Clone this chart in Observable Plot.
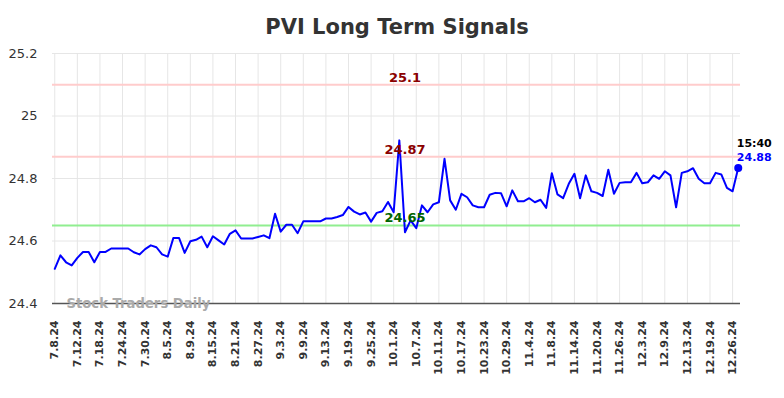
<!DOCTYPE html>
<html>
<head>
<meta charset="utf-8">
<script src="https://cdn.jsdelivr.net/npm/d3@7"></script>
<script src="https://cdn.jsdelivr.net/npm/@observablehq/plot@0.6"></script>
<style>
  html, body { margin: 0; padding: 0; background: #fff; }
  #title { width: 784px; height: 40px; overflow: visible; text-align: center; box-sizing: border-box; padding-left: 10px;
    font-family: "DejaVu Sans", sans-serif; font-weight: bold; font-size: 21px; line-height: 54px; color: #333; }
  #chart svg { display: block; }
</style>
</head>
<body>
<div id="title">PVI Long Term Signals</div>
<div id="chart"></div>
<script>
const dates = [
  "7.8.24","7.9.24","7.10.24","7.11.24","7.12.24","7.15.24","7.16.24","7.17.24","7.18.24","7.19.24",
  "7.22.24","7.23.24","7.24.24","7.25.24","7.26.24","7.29.24","7.30.24","7.31.24",
  "8.1.24","8.2.24","8.5.24","8.6.24","8.7.24","8.8.24","8.9.24","8.12.24","8.13.24","8.14.24","8.15.24","8.16.24",
  "8.19.24","8.20.24","8.21.24","8.22.24","8.23.24","8.26.24","8.27.24","8.28.24","8.29.24","8.30.24",
  "9.3.24","9.4.24","9.5.24","9.6.24","9.9.24","9.10.24","9.11.24","9.12.24","9.13.24","9.16.24",
  "9.17.24","9.18.24","9.19.24","9.20.24","9.23.24","9.24.24","9.25.24","9.26.24","9.27.24","9.30.24",
  "10.1.24","10.2.24","10.3.24","10.4.24","10.7.24","10.8.24","10.9.24","10.10.24","10.11.24","10.14.24",
  "10.15.24","10.16.24","10.17.24","10.18.24","10.21.24","10.22.24","10.23.24","10.24.24","10.25.24","10.28.24",
  "10.29.24","10.30.24","10.31.24",
  "11.1.24","11.4.24","11.5.24","11.6.24","11.7.24","11.8.24","11.11.24","11.12.24","11.13.24","11.14.24",
  "11.15.24","11.18.24","11.19.24","11.20.24","11.21.24","11.22.24","11.25.24","11.26.24","11.27.24","11.29.24",
  "12.2.24","12.3.24","12.4.24","12.5.24","12.6.24","12.9.24","12.10.24","12.11.24","12.12.24","12.13.24",
  "12.16.24","12.17.24","12.18.24","12.19.24","12.20.24","12.23.24","12.24.24","12.26.24","12.27.24"
];

const values = [
  24.511,24.554,24.532,24.522,24.546,24.565,24.565,24.532,24.565,24.565,
  24.576,24.576,24.576,24.576,24.564,24.557,24.574,24.586,
  24.580,24.557,24.550,24.610,24.610,24.562,24.599,24.604,24.614,24.580,24.615,24.602,
  24.589,24.623,24.634,24.608,24.608,24.608,24.613,24.618,24.609,24.687,
  24.630,24.652,24.652,24.625,24.663,24.663,24.663,24.663,24.672,24.672,
  24.677,24.683,24.709,24.694,24.685,24.691,24.662,24.690,24.695,24.725,
  24.692,24.922,24.628,24.666,24.641,24.714,24.692,24.717,24.724,24.863,
  24.730,24.700,24.751,24.740,24.714,24.708,24.708,24.748,24.754,24.753,
  24.711,24.762,24.727,
  24.727,24.737,24.724,24.732,24.706,24.817,24.749,24.737,24.783,24.815,
  24.737,24.810,24.759,24.754,24.744,24.828,24.751,24.786,24.788,24.788,
  24.818,24.785,24.788,24.810,24.799,24.823,24.810,24.708,24.818,24.823,
  24.833,24.799,24.785,24.785,24.818,24.813,24.770,24.759,24.834
];

const tickLabels = [
  "7.8.24","7.12.24","7.18.24","7.24.24","7.30.24","8.5.24","8.9.24","8.15.24","8.21.24","8.27.24",
  "9.3.24","9.9.24","9.13.24","9.19.24","9.25.24","10.1.24","10.7.24","10.11.24","10.17.24","10.23.24",
  "10.29.24","11.4.24","11.8.24","11.14.24","11.20.24","11.26.24","12.3.24","12.9.24","12.13.24","12.19.24","12.26.24"
];

const yTicks = [24.4, 24.6, 24.8, 25, 25.2];

const upperLevels = [25.1, 24.87];
const lowerLevels = [24.65];
const levelLabelDate = "10.3.24";
const lastTime = "15:40";
const lastLabel = "24.88";
const watermark = "Stock Traders Daily";

const series = dates.map((d, i) => ({date: d, value: values[i]}));
const last = series[series.length - 1];

const font = "DejaVu Sans, sans-serif";

const chart = Plot.plot({
  width: 784,
  height: 358,
  marginTop: 13,
  marginBottom: 95,
  marginLeft: 52,
  marginRight: 44,
  style: {fontFamily: font, background: "#fff"},
  x: {type: "point", domain: dates, padding: 0.4},
  y: {domain: [24.4, 25.2]},
  marks: [
    Plot.gridY(yTicks, {stroke: "#e6e6e6", strokeOpacity: 1, strokeWidth: 1}),
    Plot.gridX(tickLabels, {stroke: "#e6e6e6", strokeOpacity: 1, strokeWidth: 1}),
    Plot.axisY(yTicks, {tickSize: 0, tickPadding: 15, fontSize: 13, fill: "#333", tickFormat: d => String(d), label: null}),
    Plot.axisX(tickLabels, {tickRotate: -90, tickSize: 0, tickPadding: 17, fontSize: 11, fontWeight: "bold", fill: "#333", label: null}),
    Plot.ruleY(upperLevels, {stroke: "#ffcccc", strokeWidth: 2}),
    Plot.ruleY(lowerLevels, {stroke: "#90ee90", strokeWidth: 2}),
    Plot.ruleY([24.4], {stroke: "#555", strokeWidth: 1.3}),
    Plot.text([watermark], {frameAnchor: "bottom-left", dx: 14, lineAnchor: "middle", fontSize: 13.2, fontWeight: "bold", fill: "#aaa"}),
    Plot.line(series, {x: "date", y: "value", stroke: "#0000ff", strokeWidth: 2}),
    Plot.text(upperLevels, {x: () => levelLabelDate, y: d => d, text: d => String(d), lineAnchor: "bottom", dy: -3, fontSize: 13, fontWeight: "bold", fill: "#8b0000"}),
    Plot.text(lowerLevels, {x: () => levelLabelDate, y: d => d, text: d => String(d), lineAnchor: "bottom", dy: -3, fontSize: 13, fontWeight: "bold", fill: "#006400"}),
    Plot.dot([last], {x: "date", y: "value", r: 4, fill: "#0000ff"}),
    Plot.text([last], {x: "date", y: "value", text: () => lastLabel, dx: 16, dy: -10, fontSize: 11, fontWeight: "bold", fill: "#0000ff"}),
    Plot.text([last], {x: "date", y: "value", text: () => lastTime, dx: 16, dy: -24, fontSize: 11, fontWeight: "bold", fill: "#000"})
  ]
});
document.getElementById("chart").appendChild(chart);
</script>
</body>
</html>
